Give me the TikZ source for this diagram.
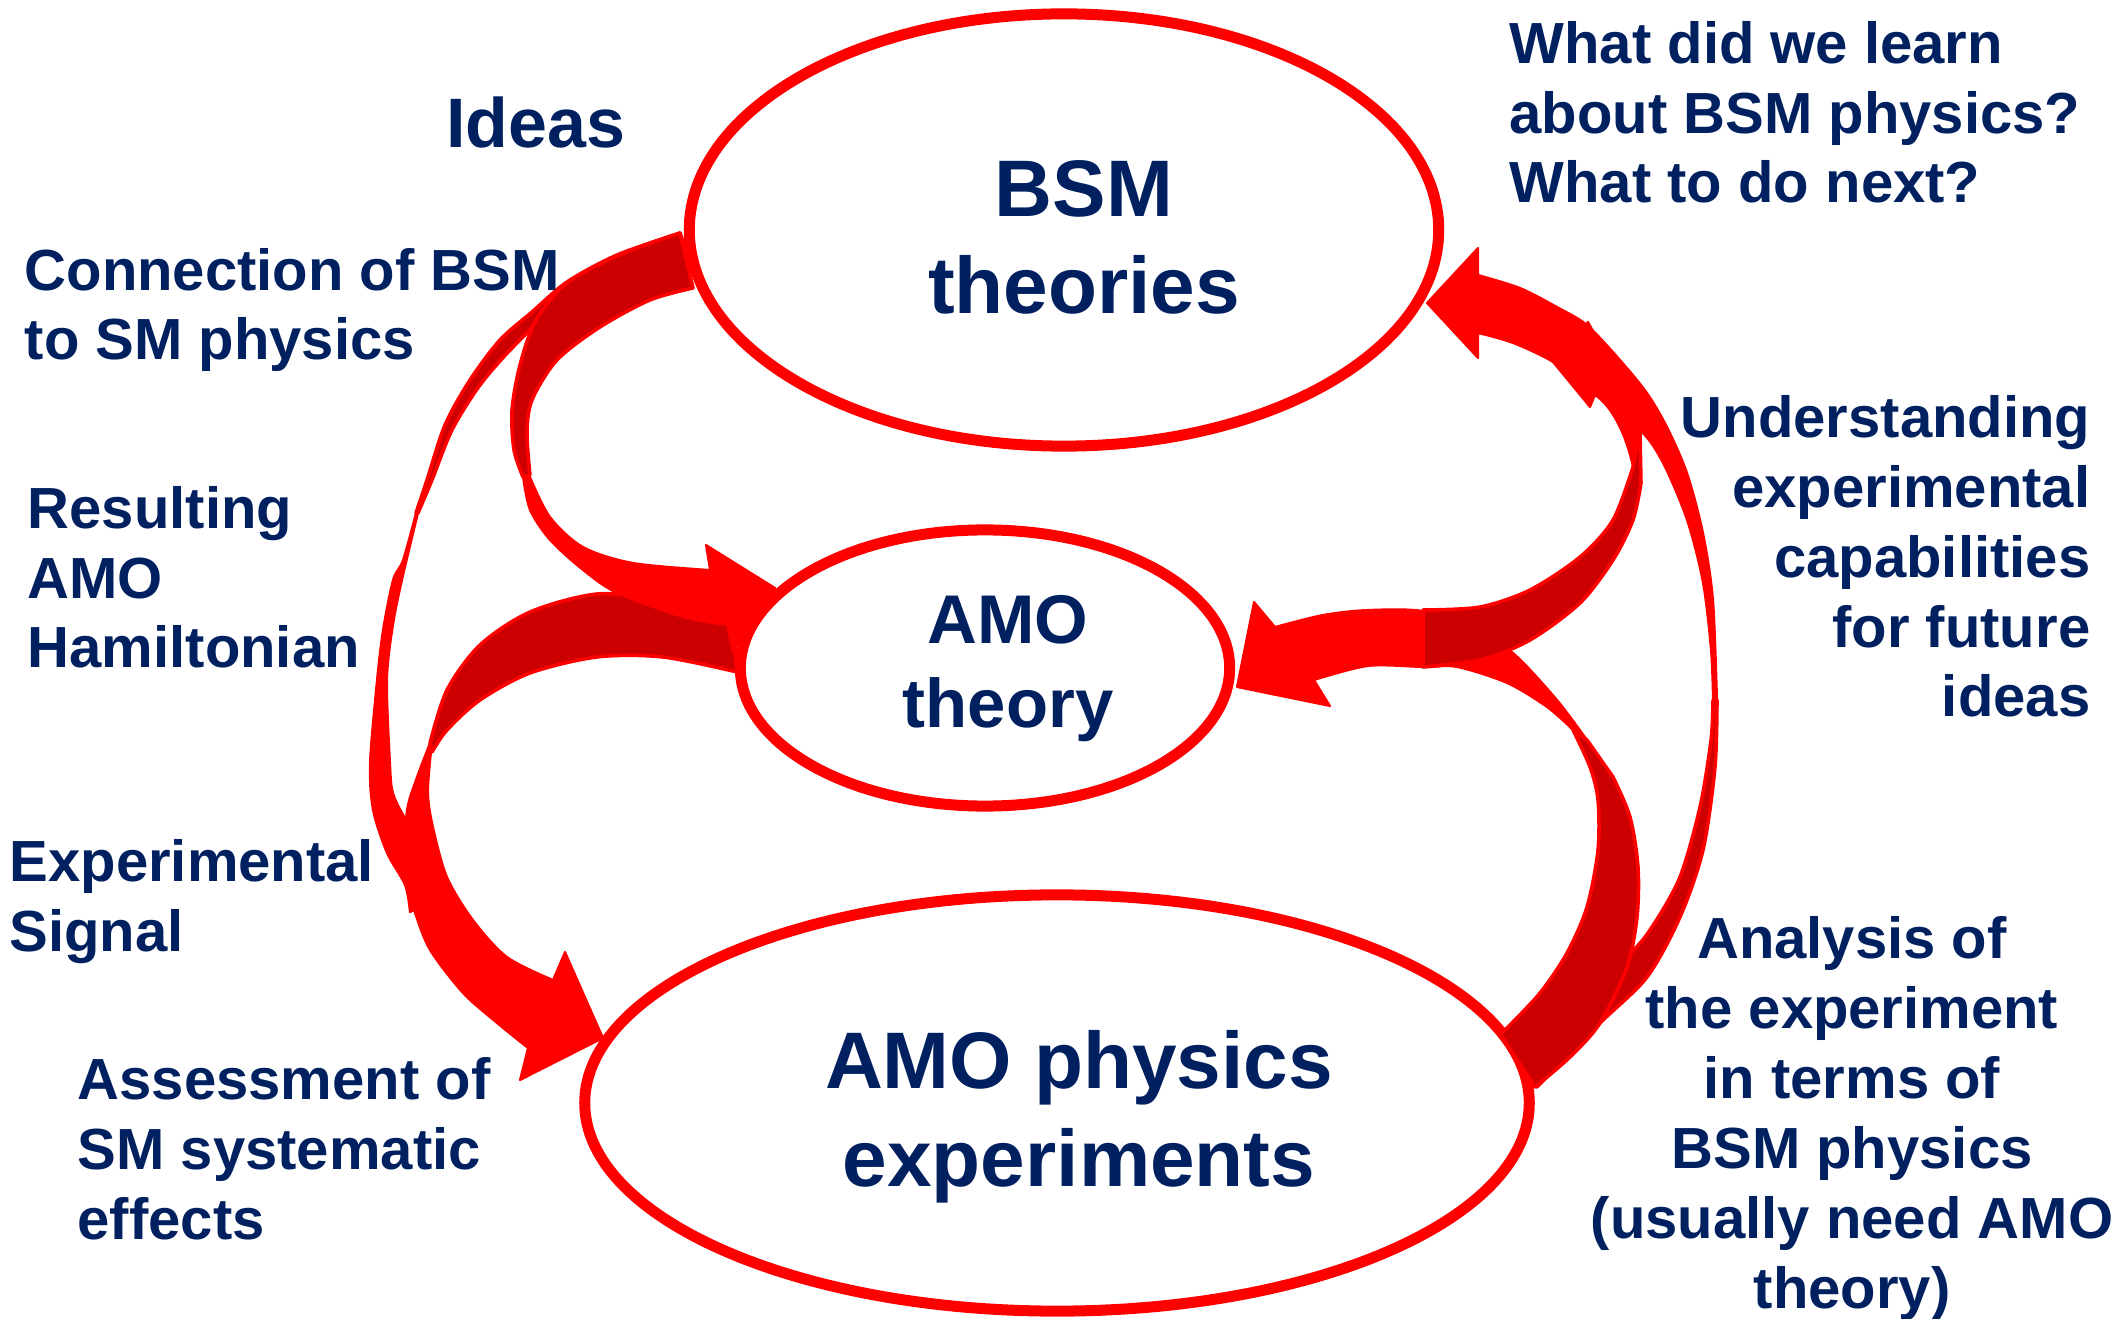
\documentclass[tikz,border=0pt]{standalone}
\usepackage{fontspec}
\setmainfont{Liberation Sans}
\usetikzlibrary{shapes.geometric}
\definecolor{MyNavy}{RGB}{0,32,96}
\definecolor{MyRed}{RGB}{255,0,0}
\definecolor{MyDarkRed}{RGB}{204,0,0}

\begin{document}
\begin{tikzpicture}[x=0.01cm,y=-0.01cm,
every node/.style={text=MyNavy,inner sep=0pt},
bubble/.style={draw=MyRed,line width=0.11cm,ellipse,inner sep=0pt},
bigtxt/.style={font=\bfseries\fontsize{22.8}{27.8}\selectfont,align=center},
midtxt/.style={font=\bfseries\fontsize{19.6}{24}\selectfont,align=center},
note/.style={font=\bfseries\fontsize{16.5}{19.9}\selectfont},
front/.style={fill=MyRed,draw=MyRed,line width=0.6pt,line join=round},
back/.style={fill=MyDarkRed,draw=MyRed,line width=1pt,line join=round}]

\useasboundingbox (0,0) rectangle (2112,1319);

\node[bubble,minimum width=7.49cm,minimum height=4.32cm] (bsm) at (1064,230) {};
\node[bubble,minimum width=4.89cm,minimum height=2.76cm] (amot) at (985,668) {};
\node[bubble,minimum width=9.44cm,minimum height=4.16cm] (amoe) at (1057,1103) {};

% left side
\filldraw[back] plot[smooth] coordinates {(680,233) (617,255) (567,282) (532,312) (500,340) (470,380) (445,425) (427,480) (416,513)}
  -- plot[smooth] coordinates {(418,513) (432,480) (452,430) (480,385) (515,345) (560,305) (640,270) (688,255)} -- cycle;
\filldraw[front] plot[smooth] coordinates {(416,513) (403,560) (393,580) (383,630) (377,680) (370,763) (373,810) (387,853) (405,885) (410,912)}
  -- (425,905) -- plot[smooth] coordinates {(420,840) (405,818) (393,793) (390,763) (387,680) (393,625) (402,580) (418,513)} -- cycle;
\filldraw[back] plot[smooth] coordinates {(732,615) (660,600) (597,594) (530,612) (480,645) (447,690) (430,743)}
  -- plot[smooth] coordinates {(432,752) (447,730) (480,700) (530,673) (597,657) (663,657) (737,672)} -- cycle;
\filldraw[front] plot[smooth] coordinates {(430,743) (417,777) (407,810) (405,860) (408,887) (415,913) (430,950) (463,993) (497,1023) (528,1048)}
  -- (520,1080) -- (603,1038) -- (565,952)
  -- plot[smooth] coordinates {(553,980) (507,957) (473,920) (447,877) (433,827) (428,793) (431,752)} -- cycle;
\filldraw[back] plot[smooth] coordinates {(680,233) (617,256) (567,283) (536,320) (520,365) (512,410) (514,450) (523,477)}
  -- plot[smooth] coordinates {(530,475) (527,433) (532,400) (557,360) (600,327) (650,300) (693,288)} -- cycle;
\filldraw[front] plot[smooth] coordinates {(523,477) (530,510) (550,540) (583,570) (617,593) (683,617) (727,625)}
  -- (733,652) -- (775,588) -- (706,545)
  -- plot[smooth] coordinates {(710,570) (633,563) (583,547) (550,517) (530,477)} -- cycle;

% right side
\filldraw[back] plot[smooth] coordinates {(1717,700) (1715,767) (1703,850) (1680,917) (1647,977) (1600,1023) (1537,1087)}
  -- plot[smooth] coordinates {(1547,1000) (1587,980) (1630,953) (1652,927) (1680,877) (1700,807) (1711,740) (1713,700)} -- cycle;
\filldraw[back] (1535,1087) -- (1500,1034) -- plot[smooth] coordinates {(1507,1028) (1540,993) (1567,953) (1587,907) (1598,850) (1598,800) (1590,767) (1573,730)}
  -- (1587,740) -- plot[smooth] coordinates {(1613,777) (1630,817) (1638,867) (1637,917) (1627,967) (1600,1023) (1570,1057) (1535,1087)} -- cycle;
\filldraw[front] plot[smooth] coordinates {(1587,740) (1557,700) (1513,653) (1470,628) (1423,611) (1368,610) (1323,615) (1275,627)}
  -- (1254,602) -- (1237,687) -- (1330,706)
  -- plot[smooth] coordinates {(1314,680) (1368,666) (1423,667) (1457,667) (1507,683) (1547,707) (1573,730)} -- cycle;
\filldraw[back] plot[smooth] coordinates {(1423,610) (1480,607) (1530,590) (1580,557) (1613,520) (1633,467)}
  -- (1640,430) -- plot[smooth] coordinates {(1641,483) (1633,520) (1613,560) (1580,603) (1530,640) (1480,660) (1423,667)} -- cycle;
\filldraw[front] (1633,467) .. controls (1625,430) and (1610,405) .. (1595,395) -- (1590,407) -- (1553,362) -- (1588,322)
  -- (1598,340) .. controls (1620,360) and (1638,395) .. (1640,430) -- cycle;
\filldraw[front] plot[smooth] coordinates {(1478,275) (1520,288) (1557,307) (1587,325) (1620,360) (1647,393) (1667,427) (1687,473) (1703,533) (1713,600) (1717,700)}
  -- plot[smooth] coordinates {(1713,700) (1711,650) (1703,583) (1687,520) (1663,463) (1640,430) (1590,390) (1553,362) (1513,343) (1478,333)}
  -- (1478,358) -- (1427,303) -- (1478,248) -- cycle;

\node[bigtxt,anchor=base] (bsmtxt) at (1084,314) {BSM\\theories};
\node[midtxt,anchor=base] (amottxt) at (1008,728) {AMO\\theory};
\node[bigtxt,anchor=base] (amoetxt) at (1079,1186) {AMO physics\\experiments};

\node[font=\bfseries\fontsize{19.9}{24}\selectfont,anchor=base] (ideas) at (536,148) {Ideas};
\node[note,align=left,anchor=base west] (link) at (24,360) {Connection of BSM\\to SM physics};
\node[note,align=left,anchor=base west] (ham) at (27,668) {Resulting\\AMO\\Hamiltonian};
\node[note,align=left,anchor=base west] (signal) at (9,951) {Experimental\\Signal};
\node[note,align=left,anchor=base west] (syst) at (77,1239) {Assessment of\\SM systematic\\effects};
\node[note,align=left,anchor=base west] (next) at (1509,203) {What did we learn\\about BSM physics?\\What to do next?};
\node[note,align=right,anchor=base east] (capab) at (2091,717) {Understanding\\experimental\\capabilities\\for future\\ideas};
\node[note,align=center,anchor=base] (analysis) at (1852,1308) {Analysis of\\the experiment\\in terms of\\BSM physics\\(usually need AMO\\theory)};
\end{tikzpicture}
\end{document}
